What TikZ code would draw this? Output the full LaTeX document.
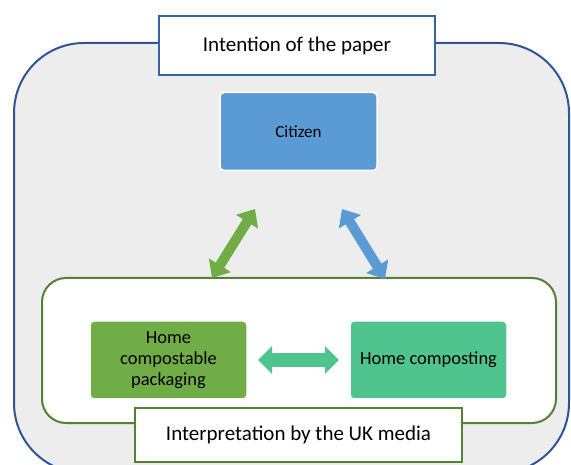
\documentclass[tikz,border=0pt]{standalone}
\usepackage{fontspec}
\setmainfont{Carlito}
\usetikzlibrary{arrows.meta}
\definecolor{paperblue}{HTML}{2F5597}
\definecolor{citizenblue}{HTML}{5B9BD5}
\definecolor{mediagreen}{HTML}{548235}
\definecolor{packgreen}{HTML}{70AD47}
\definecolor{compostgreen}{HTML}{4FC48E}
\definecolor{framegray}{HTML}{EDEDED}
\begin{document}
\begin{tikzpicture}[x=1pt, y=-1pt,
  main box/.style={rectangle, rounded corners=4pt, draw=white, line width=1.5pt, minimum width=157pt, minimum height=78pt, align=center, font=\fontsize{18.5}{21}\selectfont},
  title box/.style={rectangle, draw, fill=white, line width=1.5pt, inner sep=0pt, font=\fontsize{21}{25}\selectfont},
  fat arrow/.style={line width=10pt, {Triangle[width=25pt,length=15pt]}-{Triangle[width=25pt,length=15pt]}}]
  \tikzstyle{every node}=[text=black]

  \useasboundingbox (0,0) rectangle (571,465);
  \clip (0,0) rectangle (571,465);

  % frames
  \node[rectangle, rounded corners=70pt, draw=paperblue, fill=framegray, line width=2pt, minimum width=555pt, minimum height=430pt] (paper) at (291.5,258) {};
  \node[rectangle, rounded corners=24pt, draw=mediagreen, fill=white, line width=2pt, minimum width=514pt, minimum height=145pt] (media) at (299,350.5) {};

  % labels on the frames
  \node[title box, draw=paperblue!80!citizenblue, minimum width=276pt, minimum height=59pt] (paper label) at (297,45.5) {Intention of the paper};
  \node[title box, draw=mediagreen, minimum width=327pt, minimum height=54pt] (media label) at (298.5,435) {Interpretation by the UK media};

  % boxes
  \node[main box, fill=citizenblue, font=\fontsize{17}{19}\selectfont] (citizen) at (298.5,131.5) {Citizen};
  \node[main box, fill=packgreen] (packaging) at (168.5,360) {Home\\compostable\\packaging};
  \node[main box, fill=compostgreen] (composting) at (428.5,360) {Home composting};

  % arrow ends
  \coordinate (g1) at (255,209);
  \coordinate (g2) at (212,278);
  \coordinate (b1) at (342,209);
  \coordinate (b2) at (385,279);
  \coordinate (h1) at (258,360);
  \coordinate (h2) at (339,360);

  \draw[fat arrow, draw=packgreen, fill=packgreen] (g1) -- (g2);
  \draw[fat arrow, draw=citizenblue, fill=citizenblue] (b1) -- (b2);
  \draw[line width=14pt, draw=compostgreen, {Triangle[width=27pt,length=14pt]}-{Triangle[width=27pt,length=14pt]}] (h1) -- (h2);
\end{tikzpicture}
\end{document}
